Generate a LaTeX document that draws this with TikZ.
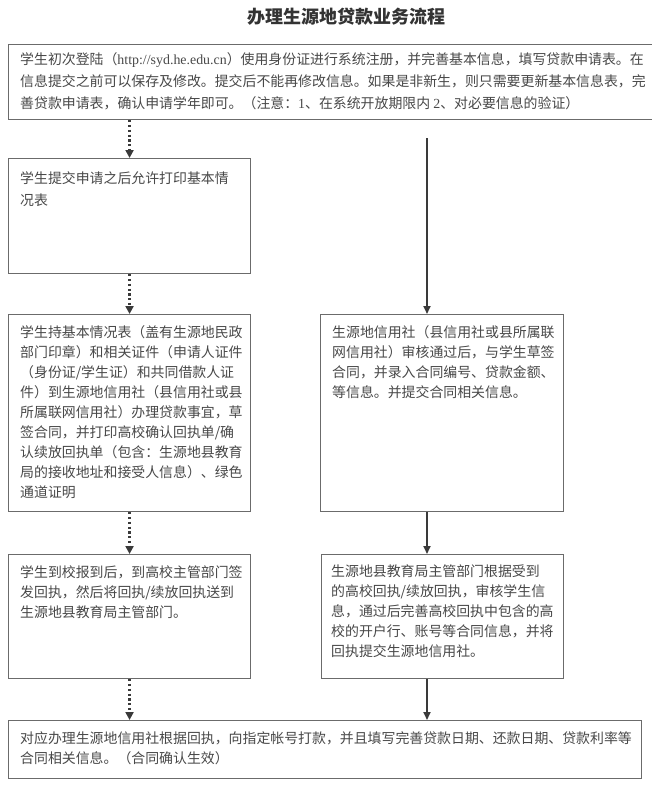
\documentclass[tikz,border=0pt]{standalone}
\usepackage{fontspec}
\usetikzlibrary{arrows.meta}
\newfontfamily\cjk{Noto Sans CJK SC}
\newfontfamily\lat{Liberation Serif}
\definecolor{gristrait}{HTML}{6B6B6B}
\definecolor{gristexte}{HTML}{484848}
\definecolor{grisfleche}{HTML}{3A3A3A}

\begin{document}
\begin{tikzpicture}[x=1pt,y=-1pt]
        % Définition des styles pour les boîtes et les flèches
        \tikzstyle{boite}=[draw=gristrait, line width=1.1pt, anchor=north west, inner sep=0pt, fill=white]
        \tikzstyle{texte}=[anchor=north west, inner sep=0pt, align=left, text=gristexte, font=\cjk\fontsize{13.9}{20}\selectfont]
        \tikzstyle{pointille}=[grisfleche, line width=2.2pt, dash pattern=on 2.2pt off 2.6pt, -{Triangle[length=8pt,width=8pt]}]
        \tikzstyle{pleine}=[grisfleche, line width=1.8pt, -{Triangle[length=8pt,width=7pt]}]

        \useasboundingbox (0,0) rectangle (652,790);

        % Titre
        \node[font=\cjk\bfseries\fontsize{18}{20}\selectfont, text=black!80] (titre) at (346,17) {办理生源地贷款业务流程};

        % Boîtes
        \node[boite, minimum width=660pt, minimum height=75pt] (b1) at (8,44) {};
        \node[boite, minimum width=242pt, minimum height=115pt] (b2) at (8,158) {};
        \node[boite, minimum width=242pt, minimum height=197pt] (b3) at (8,314) {};
        \node[boite, minimum width=243pt, minimum height=197pt] (b3d) at (320,314) {};
        \node[boite, minimum width=242pt, minimum height=124pt] (b4) at (8,554) {};
        \node[boite, minimum width=242pt, minimum height=124pt] (b4d) at (321,554) {};
        \node[boite, minimum width=633pt, minimum height=58pt] (b5) at (8,720) {};

        % Textes
        \node[texte, font=\cjk\fontsize{13.9}{22}\selectfont] (t1) at ([xshift=12pt,yshift=-8pt]b1.north west)
            {学生初次登陆（{\lat http://syd.he.edu.cn}）使用身份证进行系统注册，并完善基本信息，填写贷款申请表。在\\
             信息提交之前可以保存及修改。提交后不能再修改信息。如果是非新生，则只需要更新基本信息表，完\\
             善贷款申请表，确认申请学年即可。（注意：{\lat 1}、在系统开放期限内 {\lat 2}、对必要信息的验证）};
        \node[texte, font=\cjk\fontsize{13.9}{22}\selectfont] (t2) at ([xshift=12pt,yshift=-13pt]b2.north west)
            {学生提交申请之后允许打印基本情\\况表};
        \node[texte] (t3) at ([xshift=12pt,yshift=-11pt]b3.north west)
            {学生持基本情况表（盖有生源地民政\\
             部门印章）和相关证件（申请人证件\\
             （身份证/学生证）和共同借款人证\\
             件）到生源地信用社（县信用社或县\\
             所属联网信用社）办理贷款事宜，草\\
             签合同，并打印高校确认回执单/确\\
             认续放回执单（包含：生源地县教育\\
             局的接收地址和接受人信息）、绿色\\
             通道证明};
        \node[texte] (t3d) at ([xshift=12pt,yshift=-11pt]b3d.north west)
            {生源地信用社（县信用社或县所属联\\
             网信用社）审核通过后，与学生草签\\
             合同，并录入合同编号、贷款金额、\\
             等信息。并提交合同相关信息。};
        \node[texte] (t4) at ([xshift=12pt,yshift=-11pt]b4.north west)
            {学生到校报到后，到高校主管部门签\\
             发回执，然后将回执/续放回执送到\\
             生源地县教育局主管部门。};
        \node[texte] (t4d) at ([xshift=10pt,yshift=-11pt]b4d.north west)
            {生源地县教育局主管部门根据受到\\
             的高校回执/续放回执，审核学生信\\
             息，通过后完善高校回执中包含的高\\
             校的开户行、账号等合同信息，并将\\
             回执提交生源地信用社。};
        \node[texte] (t5) at ([xshift=12pt,yshift=-11pt]b5.north west)
            {对应办理生源地信用社根据回执，向指定帐号打款，并且填写完善贷款日期、还款日期、贷款利率等\\
             合同相关信息。（合同确认生效）};

        % Flèches
        \coordinate (depart) at (427,138);
        \draw[pointille] (b2.north |- b1.south) -- (b2.north);
        \draw[pointille] (b2.south) -- (b3.north);
        \draw[pointille] (b3.south) -- (b4.north);
        \draw[pointille] (b4.south) -- (b4.south |- b5.north);
        \draw[pleine] (depart) -- (depart |- b3d.north);
        \draw[pleine] (b3d.south -| depart) -- (b4d.north -| depart);
        \draw[pleine] (b4d.south -| depart) -- (b5.north -| depart);
    \end{tikzpicture}
\end{document}
